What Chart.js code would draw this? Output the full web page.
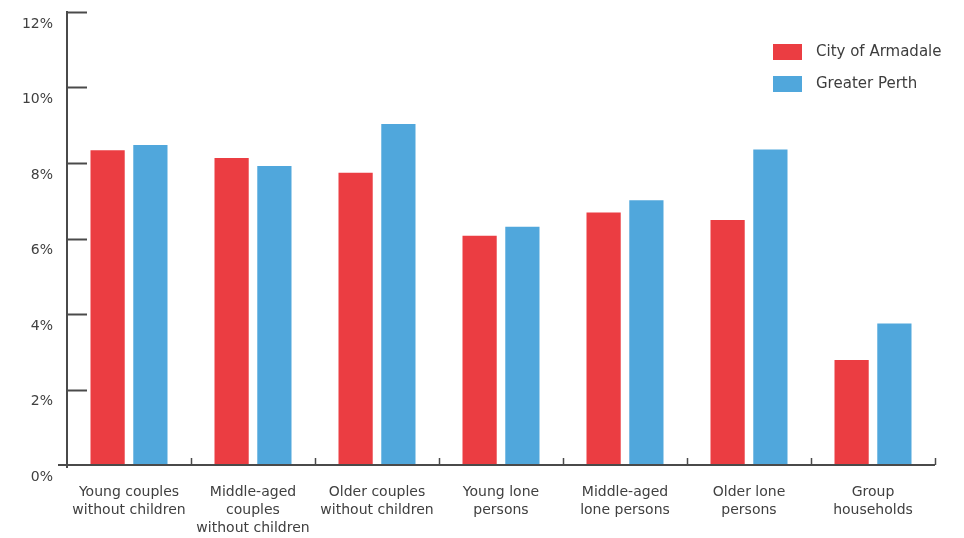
<!DOCTYPE html>
<html>
<head>
<meta charset="utf-8">
<script src="https://cdn.jsdelivr.net/npm/chart.js@4"></script>
<style>
  html, body { margin: 0; padding: 0; background: #ffffff; }
  #wrap { position: relative; width: 964px; height: 538px; }
</style>
</head>
<body>
<div id="wrap"><canvas id="chart" width="964" height="538"></canvas></div>
<script>
// Household types (multi-line category labels)
const categories = [
  ["Young couples", "without children"],
  ["Middle-aged", "couples", "without children"],
  ["Older couples", "without children"],
  ["Young lone", "persons"],
  ["Middle-aged", "lone persons"],
  ["Older lone", "persons"],
  ["Group", "households"]
];

// Share of households, %
const armadale = [8.34, 8.13, 7.74, 6.07, 6.69, 6.49, 2.78];
const perth    = [8.48, 7.92, 9.03, 6.31, 7.01, 8.36, 3.75];

const seriesNames = ["City of Armadale", "Greater Perth"];
const yTicks = [0, 2, 4, 6, 8, 10, 12];

const RED = "#EB3D42";
const BLUE = "#50A7DC";
const AXIS = "#4a4a4a";
const TEXT = "#404040";
const FONT = "'DejaVu Sans', sans-serif";

// Axis lines, inward tick marks and the legend block
const decorations = {
  id: "decorations",
  afterDraw(chart) {
    const ctx = chart.ctx;
    const area = chart.chartArea;
    const ys = chart.scales.y;
    const xs = chart.scales.x;
    ctx.save();
    ctx.strokeStyle = AXIS;
    ctx.lineWidth = 2;
    ctx.lineCap = "butt";

    // vertical axis
    ctx.beginPath();
    ctx.moveTo(area.left, ys.getPixelForValue(yTicks[yTicks.length - 1]) - 1);
    ctx.lineTo(area.left, area.bottom + 3);
    ctx.stroke();

    // value ticks pointing into the plot
    yTicks.forEach(v => {
      if (v === 0) return;
      const y = Math.round(ys.getPixelForValue(v)) + 0.5;
      ctx.beginPath();
      ctx.moveTo(area.left, y);
      ctx.lineTo(area.left + 20, y);
      ctx.stroke();
    });

    // horizontal axis
    ctx.beginPath();
    ctx.moveTo(area.left - 9, area.bottom);
    ctx.lineTo(area.right, area.bottom);
    ctx.stroke();

    // category separators
    ctx.lineWidth = 1.5;
    for (let i = 1; i <= categories.length; i++) {
      const x = Math.round(xs.getPixelForValue(i - 0.5)) + 0.5;
      ctx.beginPath();
      ctx.moveTo(x, area.bottom);
      ctx.lineTo(x, area.bottom - 7);
      ctx.stroke();
    }

    // legend
    const lx = area.right - 162;
    const ly = area.top + 32;
    ctx.font = "15px " + FONT;
    ctx.textBaseline = "middle";
    ctx.textAlign = "left";
    chart.data.datasets.forEach((ds, i) => {
      const y = ly + i * 32;
      ctx.fillStyle = ds.backgroundColor;
      ctx.fillRect(lx, y, 29, 16);
      ctx.fillStyle = "#3d3d3d";
      ctx.fillText(ds.label, lx + 43, y + 8.5);
    });
    ctx.restore();
  }
};

new Chart(document.getElementById("chart"), {
  type: "bar",
  data: {
    labels: categories,
    datasets: [
      { label: seriesNames[0], data: armadale, backgroundColor: RED },
      { label: seriesNames[1], data: perth, backgroundColor: BLUE }
    ]
  },
  options: {
    responsive: false,
    animation: false,
    devicePixelRatio: 1,
    layout: { padding: { top: 12, right: 29, left: 0, bottom: 0 } },
    categoryPercentage: 0.69,
    barPercentage: 0.8,
    plugins: {
      legend: { display: false },
      tooltip: { enabled: false }
    },
    scales: {
      x: {
        offset: true,
        grid: { display: false, drawTicks: false },
        border: { display: false },
        ticks: {
          color: TEXT,
          padding: 18,
          maxRotation: 0,
          autoSkip: false,
          font: { family: FONT, size: 14, lineHeight: 1.3 }
        },
        afterFit(scale) {
          scale.height = 73;
          scale.paddingLeft = 0;
          scale.paddingRight = 0;
        }
      },
      y: {
        min: 0,
        max: 12,
        grid: { display: false, drawTicks: false },
        border: { display: false },
        afterBuildTicks(scale) { scale.ticks = yTicks.map(v => ({ value: v })); },
        ticks: {
          color: TEXT,
          padding: 14,
          labelOffset: 12,
          font: { family: FONT, size: 14 },
          callback: v => v + "%"
        },
        afterFit(scale) {
          scale.width = 67;
          scale.paddingTop = 0;
          scale.paddingBottom = 0;
        }
      }
    }
  },
  plugins: [decorations]
});
</script>
</body>
</html>
